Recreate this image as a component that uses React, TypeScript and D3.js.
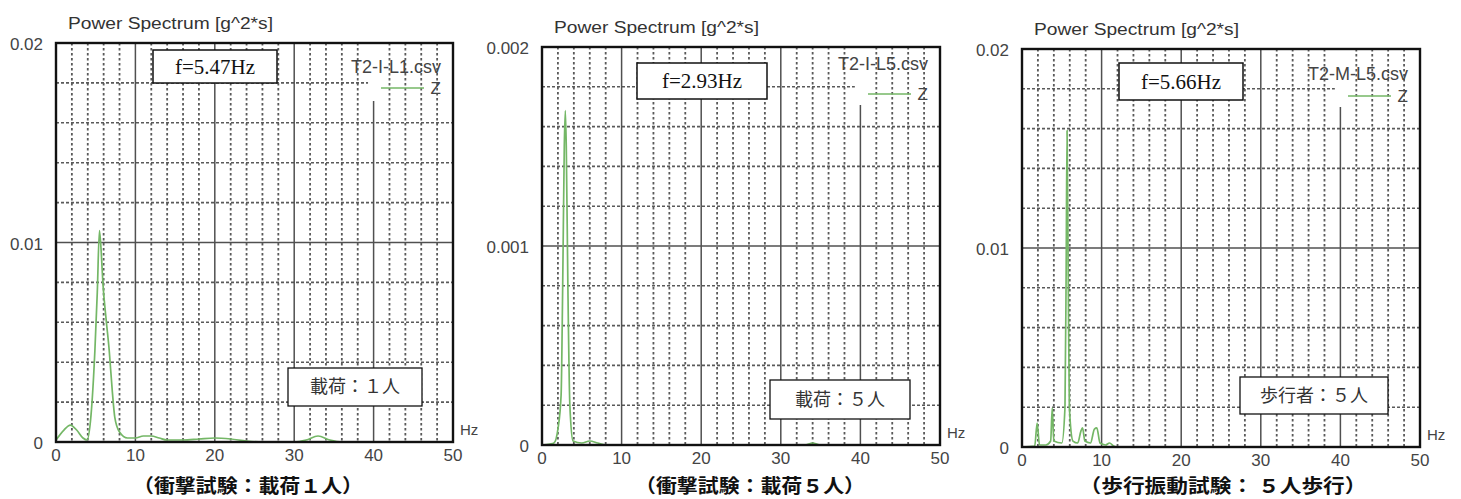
import * as d3 from 'd3';

// --- data ---
const hz1 = [0, 1, 1.8, 2.6, 3.4, 3.9, 4.4, 4.9, 5.2, 5.47, 5.7, 5.9, 6.3, 6.7, 7.1, 7.4, 8, 9, 10, 11, 12, 13, 14, 16, 18, 20, 22, 24, 26, 30, 31.5, 33, 34.5, 36, 50];
const power1 = [0.0001, 0.0006, 0.00085, 0.0006, 0.0002, 0.0001, 0.0013, 0.0046, 0.0075, 0.0106, 0.0095, 0.008, 0.0062, 0.0046, 0.0025, 0.00125, 0.0005, 0.0002, 0.0002, 0.0003, 0.0003, 0.0002, 0.0001, 0.0001, 0.00015, 0.0002, 0.00015, 0.00005, 0, 0, 0.0001, 0.0003, 0.0001, 0, 0];

const hz2 = [0, 1, 1.5, 2, 2.4, 2.6, 2.8, 2.93, 3.05, 3.25, 3.5, 3.9, 5, 6, 7, 8, 33, 34, 35, 50];
const power2 = [0, 0.000005, 0.00001, 0.00008, 0.00025, 0.0008, 0.0015, 0.00168, 0.0015, 0.0008, 0.0002, 0.00002, 0.00001, 0.00002, 0.00001, 0, 0, 0.00001, 0, 0];

const hz3 = [0, 1.6, 1.9, 2.2, 3, 3.6, 3.8, 4, 5, 5.4, 5.55, 5.66, 5.8, 5.95, 6.4, 7, 7.4, 7.6, 7.9, 8.6, 9.1, 9.4, 9.8, 10.5, 11, 11.5, 12, 50];
const power3 = [0, 0.00005, 0.0012, 0.0001, 0.0001, 0.0003, 0.00196, 0.0003, 0.0002, 0.002, 0.009, 0.0159, 0.009, 0.002, 0.0003, 0.0002, 0.0008, 0.00096, 0.0003, 0.0002, 0.0009, 0.00096, 0.0002, 0.0001, 0.0002, 0.00005, 0, 0];

const yMaxes = [0.02, 0.002, 0.02];
const yTickLabels = [
  ['0', '0.01', '0.02'],
  ['0', '0.001', '0.002'],
  ['0', '0.01', '0.02'],
];
const xTicks = [0, 10, 20, 30, 40, 50];
const fileNames = ['T2-I-L1.csv', 'T2-I-L5.csv', 'T2-M-L5.csv'];
const peakLabels = ['f=5.47Hz', 'f=2.93Hz', 'f=5.66Hz'];
const conditionLabels = ['載荷：１人', '載荷：５人', '歩行者：５人'];
const captions = ['（衝撃試験：載荷１人）', '（衝撃試験：載荷５人）', '（歩行振動試験： ５人歩行）'];
const series = [
  { hz: hz1, power: power1 },
  { hz: hz2, power: power2 },
  { hz: hz3, power: power3 },
];

// --- layout (px) ---
const FRAMES = [
  { left: 56, top: 43, width: 397, height: 399 },
  { left: 542, top: 47, width: 398, height: 398 },
  { left: 1022, top: 49, width: 398, height: 398 },
];
// f= box relative to plot top-left
const PEAK_BOX = [
  { x: 97, y: 7, w: 124, h: 33 },
  { x: 95, y: 16, w: 130, h: 36 },
  { x: 97, y: 14, w: 124, h: 37 },
];
// condition box relative to plot left / bottom
const COND_BOX = [
  { x: 232, y: -74, w: 134, h: 38 },
  { x: 228, y: -65, w: 140, h: 39 },
  { x: 218, y: -70, w: 148, h: 37 },
];
const LEGEND_TEXT_DY = [30, 23, 31];
const LEGEND_LINE_DY = [45, 47, 47];
const CAPTION_X = [248, 750, 1223];
const CAPTION_W = [230, 230, 287];

const GREEN = '#74b766';
const GRID = '#5a5a5a';
const SANS = '"Liberation Sans", Arial, sans-serif';
const CJK = '"Noto Sans CJK JP", "Noto Sans", sans-serif';

function Panel({ i }: { i: number }) {
  const f = FRAMES[i];
  const yMax = yMaxes[i];
  const x = d3.scaleLinear().domain([0, 50]).range([f.left, f.left + f.width]);
  const y = d3.scaleLinear().domain([0, yMax]).range([f.top + f.height, f.top]);
  const right = f.left + f.width;
  const bottom = f.top + f.height;

  const minorY = d3.range(1, 10).filter((k) => k !== 5).map((k) => (k * yMax) / 10);
  const majorX = [10, 20, 30, 40];
  const minorX = d3.range(2, 50, 2).filter((v) => v % 10 !== 0);

  const { hz, power } = series[i];
  const pts: [number, number][] = hz.map((h, k) => [h, power[k]]);
  const line = d3
    .line<[number, number]>()
    .x((d) => x(d[0]))
    .y((d) => y(d[1]))
    .curve(d3.curveMonotoneX);

  const pb = PEAK_BOX[i];
  const cb = COND_BOX[i];
  const clipId = `clip-${i}`;

  return (
    <g>
      <defs>
        <clipPath id={clipId}>
          <rect x={f.left} y={f.top} width={f.width} height={f.height} />
        </clipPath>
      </defs>
      <rect x={f.left} y={f.top} width={f.width} height={f.height} fill="#fff" />

      {/* horizontal dashed minor grid */}
      {minorY.map((v) => (
        <line key={`hy${v}`} x1={f.left} x2={right} y1={y(v)} y2={y(v)} stroke={GRID} strokeWidth={1.6} strokeDasharray="3,2" />
      ))}
      {/* major solid grid */}
      {majorX.map((v) => (
        <line key={`mx${v}`} x1={x(v)} x2={x(v)} y1={f.top} y2={bottom} stroke="#505050" strokeWidth={1.5} />
      ))}
      <line x1={f.left} x2={right} y1={y(yMax / 2)} y2={y(yMax / 2)} stroke="#505050" strokeWidth={1.5} />

      {/* legend background */}
      <rect x={x(39.3)} y={f.top + 1} width={right - x(39.3) - 1} height={57} fill="#fff" />

      {/* vertical dotted minor grid */}
      {minorX.map((v) => (
        <line key={`vx${v}`} x1={x(v)} x2={x(v)} y1={f.top} y2={bottom} stroke={GRID} strokeWidth={1.8} strokeDasharray="2.5,2.5" />
      ))}

      {/* peak frequency box */}
      <rect x={f.left + pb.x} y={f.top + pb.y} width={pb.w} height={pb.h} fill="#fff" stroke="#111" strokeWidth={1.5} />
      <text
        x={f.left + pb.x + pb.w / 2}
        y={f.top + pb.y + pb.h / 2 + 7}
        textAnchor="middle"
        fontFamily='"Liberation Serif", "DejaVu Serif", serif'
        fontSize={21}
        fill="#111"
      >
        {peakLabels[i]}
      </text>

      {/* condition box */}
      <rect x={f.left + cb.x} y={bottom + cb.y} width={cb.w} height={cb.h} fill="#fff" stroke="#111" strokeWidth={1.3} />
      <text
        x={f.left + cb.x + cb.w / 2}
        y={bottom + cb.y + cb.h / 2 + 6}
        textAnchor="middle"
        fontFamily={CJK}
        fontSize={18}
        fill="#333"
      >
        {conditionLabels[i]}
      </text>

      {/* spectrum */}
      <path d={line(pts) ?? ''} fill="none" stroke={GREEN} strokeWidth={1.7} clipPath={`url(#${clipId})`} />

      {/* frame */}
      <rect x={f.left} y={f.top} width={f.width} height={f.height} fill="none" stroke="#111" strokeWidth={2.4} />

      {/* legend */}
      <text x={right - 12} y={f.top + LEGEND_TEXT_DY[i]} textAnchor="end" fontFamily={SANS} fontSize={18} fill="#444">
        {fileNames[i]}
      </text>
      <line x1={right - 72} x2={right - 29} y1={f.top + LEGEND_LINE_DY[i]} y2={f.top + LEGEND_LINE_DY[i]} stroke={GREEN} strokeWidth={1.7} />
      <text x={right - 12} y={f.top + LEGEND_LINE_DY[i] + 6} textAnchor="end" fontFamily={SANS} fontSize={17} fill="#444">
        Z
      </text>

      {/* axis title */}
      <text x={f.left + 12} y={f.top - 14} fontFamily={SANS} fontSize={16} fill="#333" textLength={205} lengthAdjust="spacingAndGlyphs">
        Power Spectrum [g^2*s]
      </text>

      {/* y tick labels */}
      {[0, yMax / 2, yMax].map((v, k) => (
        <text key={`yt${k}`} x={f.left - 13} y={y(v) + 7} textAnchor="end" fontFamily={SANS} fontSize={17} fill="#444">
          {yTickLabels[i][k]}
        </text>
      ))}
      {/* x tick labels */}
      {xTicks.map((v) => (
        <text key={`xt${v}`} x={x(v)} y={bottom + 19} textAnchor="middle" fontFamily={SANS} fontSize={17} fill="#444">
          {v}
        </text>
      ))}
      <text x={right + 7} y={bottom - 7} fontFamily={SANS} fontSize={15} fill="#444">
        Hz
      </text>

      {/* caption */}
      <text
        x={CAPTION_X[i] - CAPTION_W[i] / 2}
        y={493}
        fontFamily={CJK}
        fontWeight={700}
        fontSize={19}
        fill="#111"
        textLength={CAPTION_W[i]}
        lengthAdjust="spacingAndGlyphs"
      >
        {captions[i]}
      </text>
    </g>
  );
}

export default function App() {
  return (
    <svg
      width={1461}
      height={499}
      viewBox="0 0 1461 499"
      style={{ position: 'absolute', left: 0, top: 0, background: '#fff' }}
    >
      <rect width={1461} height={499} fill="#fff" />
      {[0, 1, 2].map((i) => (
        <Panel key={i} i={i} />
      ))}
    </svg>
  );
}
